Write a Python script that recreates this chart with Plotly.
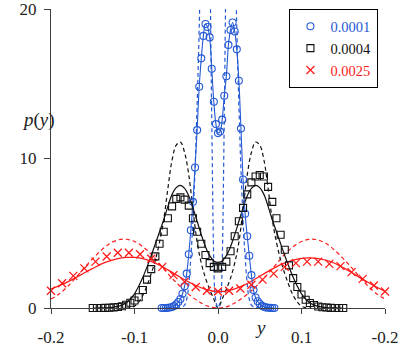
import plotly.graph_objects as go

BLUE = "#2459d4"
BLACK = "#111111"
RED = "#ff1a1a"
AXIS = "#404040"
FONT = "Liberation Serif, Times New Roman, Times, serif"

# D = 0.0001 (circles, solid line follows the data)
blue_x = [-0.0675, -0.065, -0.0625, -0.06, -0.0575, -0.055, -0.0525, -0.05, -0.0475, -0.045,
          -0.0425, -0.04, -0.0375, -0.035, -0.0325, -0.03, -0.0275, -0.025, -0.0225, -0.02,
          -0.0175, -0.015, -0.0125, -0.01, -0.0075, -0.005, -0.0025, 0.0, 0.0025, 0.005,
          0.0075, 0.01, 0.0125, 0.015, 0.0175, 0.02, 0.0225, 0.025, 0.0275, 0.03,
          0.0325, 0.035, 0.0375, 0.04, 0.0425, 0.045, 0.0475, 0.05, 0.0525, 0.055,
          0.0575, 0.06, 0.0625, 0.065, 0.0675]
blue_p = [0.0, 0.0, 0.0, 0.01, 0.03, 0.07, 0.13, 0.25, 0.4, 0.6,
          0.95, 1.45, 2.3, 3.6, 5.2, 7.1, 9.4, 11.9, 14.8, 16.7,
          18.2, 19.0, 18.8, 18.1, 16.0, 13.8, 12.3, 11.7, 11.8, 12.6,
          14.2, 15.5, 17.6, 18.6, 19.1, 18.5, 17.3, 15.2, 12.0, 8.6,
          6.3, 4.8, 3.5, 2.2, 1.2, 0.7, 0.45, 0.28, 0.15, 0.08,
          0.04, 0.02, 0.01, 0.0, 0.0]

# D = 0.0001 theory (dashed)
blue_th_x = [-0.05, -0.045, -0.04, -0.037, -0.035, -0.033, -0.031, -0.029, -0.027, -0.026,
             -0.024, -0.022, -0.021, -0.019, -0.0155, -0.012, -0.01, -0.009, -0.008, -0.007,
             -0.006, -0.005, -0.004, -0.002, 0.0, 0.002, 0.004, 0.005, 0.006, 0.007,
             0.008, 0.009, 0.01, 0.012, 0.0155, 0.019, 0.021, 0.022, 0.024, 0.026,
             0.027, 0.029, 0.031, 0.033, 0.035, 0.037, 0.04, 0.045, 0.05]
blue_th_p = [0.0, 0.03, 0.2, 0.7, 1.6, 3.0, 4.8, 7.2, 10.0, 11.8,
             15.5, 20.0, 23.0, 26.5, 28.0, 26.5, 23.0, 20.0, 15.0, 10.5,
             6.0, 3.0, 1.2, 0.3, 0.0, 0.3, 1.2, 3.0, 6.0, 10.5,
             15.0, 20.0, 23.0, 26.5, 28.0, 26.5, 23.0, 20.0, 15.5, 11.8,
             10.0, 7.2, 4.8, 3.0, 1.6, 0.7, 0.2, 0.03, 0.0]

# D = 0.0004 (squares)
black_x = [-0.15, -0.145, -0.14, -0.135, -0.13, -0.125, -0.12, -0.115, -0.11, -0.105,
           -0.1, -0.095, -0.09, -0.085, -0.08, -0.075, -0.07, -0.065, -0.06, -0.055,
           -0.05, -0.045, -0.04, -0.035, -0.03, -0.025, -0.02, -0.015, -0.01, -0.005,
           0.0, 0.005, 0.01, 0.015, 0.02, 0.025, 0.03, 0.035, 0.04, 0.045,
           0.05, 0.055, 0.06, 0.065, 0.07, 0.075, 0.08, 0.085, 0.09, 0.095,
           0.1, 0.105, 0.11, 0.115, 0.12, 0.125, 0.13, 0.135, 0.14, 0.145, 0.15]
black_p = [0.0, 0.0, 0.0, 0.01, 0.02, 0.04, 0.07, 0.12, 0.22, 0.35,
           0.5, 0.72, 1.2, 1.9, 2.6, 3.45, 4.3, 5.1, 6.0, 6.8,
           7.3, 7.4, 7.25, 6.85, 6.0, 5.1, 4.3, 3.55, 3.0, 2.75,
           2.65, 2.75, 3.1, 3.8, 4.8, 5.8, 6.7, 7.6, 8.4, 8.8,
           8.9, 8.8, 8.1, 7.1, 6.0, 4.9, 3.9, 2.85, 2.0, 1.4,
           0.9, 0.55, 0.33, 0.2, 0.1, 0.05, 0.03, 0.01, 0.0, 0.0, 0.0]
black_fit_p = [0.0, 0.0, 0.01, 0.015, 0.03, 0.06, 0.11, 0.2, 0.35, 0.6,
               0.95, 1.45, 2.05, 2.75, 3.5, 4.3, 5.1, 5.9, 6.8, 7.6,
               8.05, 8.2, 8.0, 7.5, 6.7, 5.8, 4.9, 4.1, 3.5, 3.15,
               3.05, 3.15, 3.5, 4.1, 4.9, 5.8, 6.7, 7.5, 8.0, 8.2,
               8.05, 7.6, 6.8, 5.9, 5.1, 4.3, 3.5, 2.75, 2.05, 1.45,
               0.95, 0.6, 0.35, 0.2, 0.11, 0.06, 0.03, 0.015, 0.01, 0.0, 0.0]

# D = 0.0004 theory (dashed)
black_th_x = [-0.11, -0.105, -0.1, -0.095, -0.09, -0.085, -0.08, -0.075, -0.07, -0.065,
              -0.06, -0.055, -0.05, -0.045, -0.04, -0.035, -0.03, -0.025, -0.02, -0.015,
              -0.01, -0.005, 0.0, 0.005, 0.01, 0.015, 0.02, 0.025, 0.03, 0.035,
              0.04, 0.045, 0.05, 0.055, 0.06, 0.065, 0.07, 0.075, 0.08, 0.085,
              0.09, 0.095, 0.1, 0.105, 0.11]
black_th_p = [0.0, 0.02, 0.12, 0.4, 0.85, 1.5, 2.3, 3.2, 4.4, 5.9,
              8.0, 9.9, 10.9, 11.1, 10.4, 8.9, 6.6, 4.4, 3.0, 2.0,
              1.25, 0.6, 0.0, 0.6, 1.25, 2.0, 3.0, 4.4, 6.6, 8.9,
              10.4, 11.1, 10.9, 9.9, 8.0, 5.9, 4.4, 3.2, 2.3, 1.5,
              0.85, 0.4, 0.12, 0.02, 0.0]

# D = 0.0025 (crosses)
red_x = [-0.2, -0.1867, -0.1733, -0.16, -0.1467, -0.1333, -0.12, -0.1067, -0.0933, -0.08,
         -0.0667, -0.0533, -0.04, -0.0267, -0.0133, 0.0, 0.0133, 0.0267, 0.04, 0.0533,
         0.0667, 0.08, 0.0933, 0.1067, 0.12, 0.1333, 0.1467, 0.16, 0.1733, 0.1867, 0.2]
red_p = [1.15, 1.65, 2.15, 2.65, 3.1, 3.45, 3.7, 3.7, 3.6, 3.3,
         2.75, 2.2, 1.75, 1.4, 1.15, 1.1, 1.15, 1.3, 1.55, 1.9,
         2.3, 2.75, 3.0, 3.1, 3.1, 2.95, 2.8, 2.4, 1.95, 1.5, 1.1]
red_fit_x = [-0.2, -0.18, -0.165, -0.15, -0.135, -0.12, -0.11, -0.1, -0.09, -0.075,
             -0.06, -0.045, -0.03, -0.015, 0.0, 0.015, 0.03, 0.045, 0.06, 0.075,
             0.09, 0.1, 0.11, 0.12, 0.135, 0.15, 0.165, 0.18, 0.2]
red_fit_p = [1.27, 1.75, 2.2, 2.65, 3.05, 3.3, 3.38, 3.38, 3.3, 3.0,
             2.55, 2.05, 1.6, 1.25, 1.1, 1.2, 1.5, 1.95, 2.45, 2.9,
             3.2, 3.32, 3.35, 3.3, 3.1, 2.7, 2.2, 1.7, 1.1]

# D = 0.0025 theory (dashed)
red_th_x = [-0.2, -0.19, -0.18, -0.17, -0.16, -0.15, -0.14, -0.13, -0.12, -0.11,
            -0.1, -0.09, -0.08, -0.07, -0.06, -0.05, -0.04, -0.03, -0.02, -0.01,
            0.0, 0.01, 0.02, 0.03, 0.04, 0.05, 0.06, 0.07, 0.08, 0.09,
            0.1, 0.11, 0.12, 0.13, 0.14, 0.15, 0.16, 0.17, 0.18, 0.19, 0.2]
red_th_p = [0.6, 0.95, 1.45, 2.05, 2.7, 3.3, 3.85, 4.3, 4.55, 4.6,
            4.45, 4.1, 3.6, 2.95, 2.3, 1.7, 1.15, 0.7, 0.33, 0.08,
            0.0, 0.08, 0.33, 0.7, 1.15, 1.7, 2.3, 2.95, 3.6, 4.1,
            4.45, 4.6, 4.55, 4.3, 3.85, 3.3, 2.7, 2.05, 1.45, 0.95, 0.6]

x_ticks = [-0.2, -0.1, 0.0, 0.1, 0.2]
x_ticktext = ["-0.2", "-0.1", "0.0", "0.1", "-0.2"]
y_ticks = [0, 10, 20]

DASH = "4px,3px"

fig = go.Figure()


def line(x, y, color, dash=None, width=1.2):
    fig.add_trace(go.Scatter(x=x, y=y, mode="lines", showlegend=False, hoverinfo="skip",
                             line=dict(color=color, width=width, dash=dash, shape="spline")))


# theory curves
line(red_th_x, red_th_p, RED, DASH)
line(black_th_x, black_th_p, BLACK, DASH)
line(blue_th_x, blue_th_p, BLUE, DASH)
# fits
line(red_fit_x, red_fit_p, RED)
line(black_x, black_fit_p, BLACK)
line(blue_x, blue_p, BLUE, width=1.1)

# data markers
fig.add_trace(go.Scatter(x=blue_x, y=blue_p, mode="markers", cliponaxis=False,
                         name="<span style='color:%s'>0.0001</span>" % BLUE,
                         marker=dict(symbol="circle-open", size=7, color=BLUE, line=dict(width=1.1))))
fig.add_trace(go.Scatter(x=black_x, y=black_p, mode="markers", cliponaxis=False,
                         name="<span style='color:%s'>0.0004</span>" % BLACK,
                         marker=dict(symbol="square-open", size=7, color=BLACK, line=dict(width=1.1))))
fig.add_trace(go.Scatter(x=red_x, y=red_p, mode="markers", cliponaxis=False,
                         name="<span style='color:%s'>0.0025</span>" % RED,
                         marker=dict(symbol="x-thin-open", size=8, color=RED, line=dict(width=1.3))))

fig.update_layout(
    width=398, height=352,
    margin=dict(l=51, r=13, t=9, b=44, autoexpand=False),
    paper_bgcolor="white", plot_bgcolor="white",
    font=dict(family=FONT, size=17, color="#222222"),
    legend=dict(x=0.713, y=1.0, xanchor="left", yanchor="top",
                bgcolor="white", bordercolor="black", borderwidth=1.3,
                font=dict(family=FONT, size=14.5)),
    xaxis=dict(range=[-0.2, 0.2], tickvals=x_ticks, ticktext=x_ticktext, automargin=False,
               showline=True, linecolor=AXIS, linewidth=1.3, ticks="outside",
               ticklen=5, tickwidth=1.3, tickcolor=AXIS, showgrid=False, zeroline=False,
               ticklabelstandoff=8, ticklabeloverflow="allow"),
    yaxis=dict(range=[0, 20], tickvals=y_ticks, automargin=False,
               showline=True, linecolor=AXIS, linewidth=1.3, ticks="outside",
               ticklen=6, tickwidth=1.3, tickcolor=AXIS, showgrid=False, zeroline=False,
               ticklabelstandoff=4, ticklabeloverflow="allow"),
    annotations=[
        dict(text="<i>p</i>(<i>y</i>)", xref="paper", yref="paper", x=-0.093, y=0.673,
             showarrow=False, font=dict(family=FONT, size=19, color="#222222")),
        dict(text="<i>y</i>", xref="paper", yref="paper", x=0.626, y=-0.107,
             showarrow=False, font=dict(family=FONT, size=19, color="#222222")),
    ],
)

# drop the browser's default page margin so the figure sits at the top-left corner
fig.write_html("out.html", config={"displayModeBar": False},
               post_script="document.body.style.margin='0';")
